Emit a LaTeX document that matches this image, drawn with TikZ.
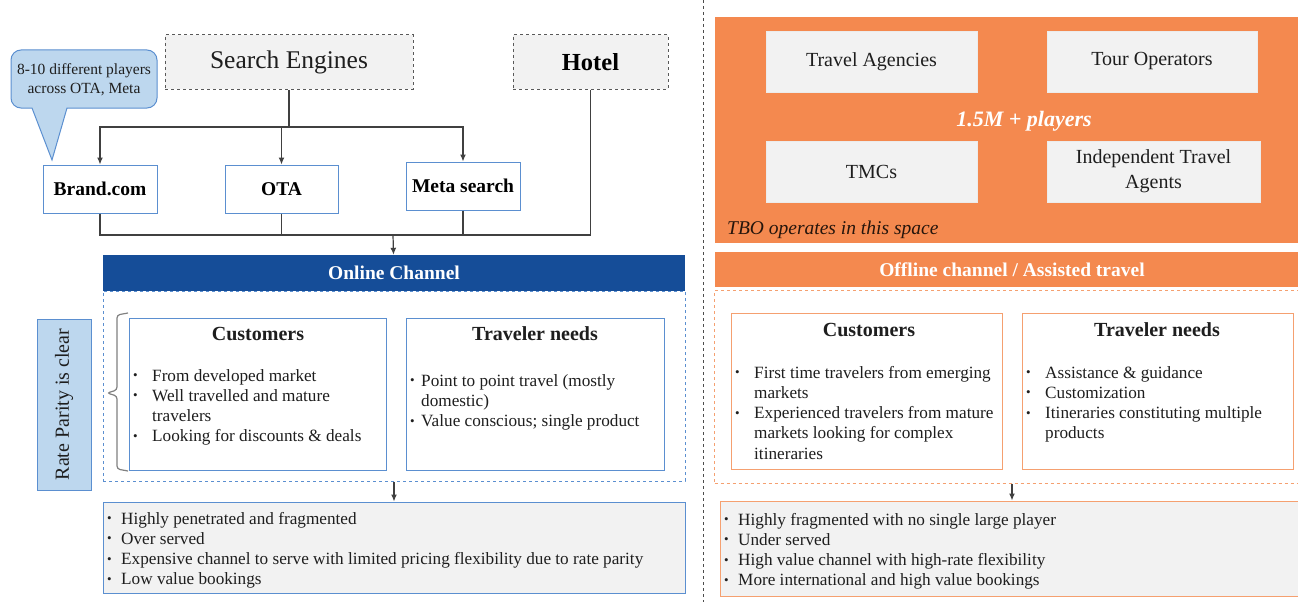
\documentclass[tikz,border=0pt]{standalone}
\usepackage{fontspec}
\setmainfont{Liberation Serif}
\usetikzlibrary{positioning, arrows.meta, calc}

\definecolor{navy}{HTML}{154D98}
\definecolor{lightblue}{HTML}{BDD7EE}
\definecolor{midblue}{HTML}{5B8FD0}
\definecolor{orng}{HTML}{F4894F}
\definecolor{paleorng}{HTML}{F5A070}
\definecolor{lightgray}{HTML}{F2F2F2}
\definecolor{linegray}{HTML}{404040}
\definecolor{txt}{HTML}{1E1E1E}

\newcommand{\bul}{\raisebox{1.5pt}{\fontsize{13}{13}\selectfont\textbullet}}
\newcommand{\blist}[2]{\begin{tabular}[t]{@{}p{#1}@{}l@{}}#2\end{tabular}}

\tikzset{
  srcbox/.style={draw=black!65, dashed, fill=lightgray, line width=1pt, minimum height=54, text=txt},
  chanbox/.style={draw=midblue, fill=white, line width=1pt, minimum width=114, minimum height=48, font=\bfseries\fontsize{19.5}{23}\selectfont, text=black},
  header/.style={minimum height=36, inner sep=0, text=white, font=\bfseries\fontsize{19.5}{23}\selectfont},
  infobox/.style={fill=white, line width=1pt, minimum height=152},
  notebox/.style={fill=lightgray, line width=1pt},
  playerbox/.style={fill=lightgray, draw=white!85!gray, minimum height=61, align=center, font=\fontsize{20}{25}\selectfont, text=txt},
  boxtitle/.style={font=\bfseries\fontsize{20}{24}\selectfont, text=txt},
  listtext/.style={anchor=base west, inner sep=0, font=\fontsize{17.2}{20.3}\selectfont, text=txt},
  conn/.style={draw=linegray, line width=1.2pt},
  arr/.style={conn, -{Latex[length=7pt,width=6pt]}}
}

\begin{document}
\begin{tikzpicture}[x=1pt, y=-1pt]
\useasboundingbox (0,0) rectangle (1298,602);
\clip (0,0) rectangle (1298,602);

% online side
\draw[fill=lightblue, draw=midblue, line width=1pt] (32,108) [rounded corners=10] -- (11,108) -- (11,50) -- (157,50) -- (157,108) [sharp corners] -- (67,108) -- (52,160) -- cycle;
\node[align=center, font=\fontsize{15.5}{19}\selectfont, text=txt] (callout) at (84,80) {8-10 different players\\across OTA, Meta};

\node[srcbox, minimum width=248, font=\fontsize{25.5}{30}\selectfont] (se) at (289,62) {Search Engines};
\node[srcbox, minimum width=155, font=\bfseries\fontsize{24.5}{29}\selectfont, text=black] (hotel) at (590.5,62) {Hotel};

\node[chanbox] (brand) at (100,189) {Brand.com};
\node[chanbox, minimum width=113] (ota) at (281.5,189) {OTA};
\node[chanbox] (meta) at (463,186) {Meta search};

\coordinate (top) at (289,127);
\coordinate (bot) at (393,235);
\draw[conn] (se) -- (top);
\draw[arr] (top) -| (brand);
\draw[arr] (top) -| (ota);
\draw[arr] (top) -| (meta);
\draw[conn] (brand) |- (bot);
\draw[conn] (ota) |- (bot);
\draw[conn] (meta) |- (bot);
\draw[conn] (hotel) |- (bot);

\node[header, fill=navy, minimum width=582] (online) at (394,273) {Online Channel};
\draw[arr] (bot) -- (online);
\node[draw=midblue, dashed, line width=1pt, minimum width=582, minimum height=190] (onbox) at (394,386) {};

\node[draw=midblue, fill=lightblue, line width=1pt, rotate=90, minimum width=171, minimum height=54, font=\fontsize{20}{24}\selectfont, text=txt] (rate) at (64,404.5) {Rate Parity is clear};
\draw[draw=gray, line width=1.2pt, rounded corners=3] (128,313) -- (117,315) -- (117,390) -- (107,393) -- (117,396) -- (117,469) -- (128,471);

\node[infobox, draw=midblue, minimum width=257] (custL) at (257.5,394) {};
\node[infobox, draw=midblue, minimum width=258] (needL) at (535,394) {};
\node[boxtitle] (custLt) at (258,334) {Customers};
\node[boxtitle] (needLt) at (535,334) {Traveler needs};
\node[listtext] (custLl) at (133,381) {\blist{19pt}{\bul & From developed market\\ \bul & Well travelled and mature\\ & travelers\\ \bul & Looking for discounts \& deals}};
\node[listtext] (needLl) at (410,386) {\blist{11pt}{\bul & Point to point travel (mostly\\ & domestic)\\ \bul & Value conscious; single product}};

\node[notebox, draw=midblue, minimum width=582, minimum height=91] (notesL) at (394,547.5) {};
\draw[arr] (onbox) -- (notesL);
\node[listtext] (notesLl) at (107,524) {\blist{14pt}{\bul & Highly penetrated and fragmented\\ \bul & Over served\\ \bul & Expensive channel to serve with limited pricing flexibility due to rate parity\\ \bul & Low value bookings}};

\draw[draw=black!70, dashed, line width=1pt] (703,0) -- (703,602);

% offline side
\node[fill=orng, minimum width=595, minimum height=226] (pool) at (1012,130) {};
\node[playerbox, minimum width=211] (agencies) at (871.5,61.5) {Travel Agencies};
\node[playerbox, minimum width=210] (tourops) at (1152,61.5) {Tour Operators};
\node[playerbox, minimum width=211] (tmcs) at (871.5,171.5) {TMCs};
\node[playerbox, minimum width=213] (indep) at (1153.5,171.5) {Independent Travel\\Agents};
\node[text=white, font=\bfseries\itshape\fontsize{22}{26}\selectfont] (players) at (1024,121) {1.5M + players};
\node[anchor=west, inner sep=0, text=black!85!orng, font=\itshape\fontsize{19.5}{23}\selectfont] (tbo) at (727,230) {TBO operates in this space};

\node[header, fill=orng, minimum width=595, minimum height=35] (offline) at (1012,269.5) {Offline channel / Assisted travel};
\node[draw=paleorng, dashed, line width=1pt, minimum width=595, minimum height=193] (offbox) at (1012,386.5) {};

\node[infobox, draw=paleorng, minimum width=271, minimum height=156] (custR) at (866.5,391) {};
\node[infobox, draw=paleorng, minimum width=271, minimum height=156] (needR) at (1157.5,391) {};
\node[boxtitle] (custRt) at (869,330) {Customers};
\node[boxtitle] (needRt) at (1157,330) {Traveler needs};
\node[listtext] (custRl) at (735,378) {\blist{19pt}{\bul & First time travelers from emerging\\ & markets\\ \bul & Experienced travelers from mature\\ & markets looking for complex\\ & itineraries}};
\node[listtext] (needRl) at (1026,378) {\blist{19pt}{\bul & Assistance \& guidance\\ \bul & Customization\\ \bul & Itineraries constituting multiple\\ & products}};

\node[notebox, draw=paleorng, minimum width=590, minimum height=95] (notesR) at (1015,548.5) {};
\draw[arr] (offbox.south) -- (offbox.south |- notesR.north);
\node[listtext] (notesRl) at (724,525) {\blist{14pt}{\bul & Highly fragmented with no single large player\\ \bul & Under served\\ \bul & High value channel with high-rate flexibility\\ \bul & More international and high value bookings}};
\end{tikzpicture}
\end{document}
